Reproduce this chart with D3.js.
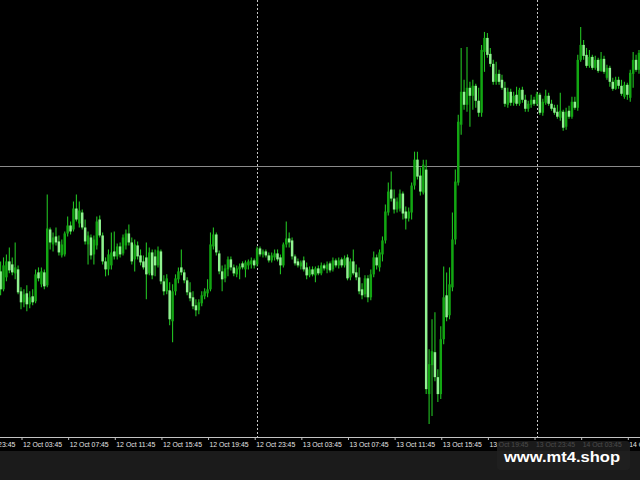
<!DOCTYPE html>
<html><head><meta charset="utf-8">
<script src="https://cdn.jsdelivr.net/npm/d3@7/dist/d3.min.js"></script>
<style>html,body{margin:0;padding:0;background:#000;}svg{display:block;}</style>
</head><body><svg id="c" width="640" height="480"></svg>
<script>
// 15-minute bars, prices in points (price x 10000)
const firstBar = "12 Oct 02:00";
const barMinutes = 15;
const open = [12728,12710,12722,12738,12735,12726,12730,12708,12697,12706,12695,12703,12698,12727,12715,12727,12714,12770,12755,12763,12758,12744,12745,12766,12774,12770,12791,12776,12787,12772,12755,12762,12745,12754,12780,12764,12738,12730,12734,12748,12743,12753,12746,12754,12766,12757,12740,12754,12744,12738,12742,12726,12747,12743,12734,12748,12718,12708,12709,12678,12708,12720,12732,12727,12719,12707,12702,12694,12689,12696,12703,12706,12710,12753,12765,12746,12728,12721,12730,12740,12732,12725,12730,12736,12730,12734,12735,12739,12735,12751,12745,12748,12744,12739,12742,12746,12742,12734,12755,12761,12759,12743,12738,12733,12739,12732,12724,12730,12724,12731,12726,12734,12730,12736,12730,12739,12734,12740,12734,12742,12722,12738,12727,12722,12710,12705,12721,12702,12725,12742,12732,12745,12759,12787,12810,12801,12790,12791,12806,12788,12781,12787,12814,12840,12824,12807,12830,12605,12634,12647,12622,12605,12660,12704,12684,12712,12760,12817,12875,12908,12895,12912,12904,12914,12899,12887,12948,12962,12946,12936,12918,12926,12920,12912,12895,12908,12897,12905,12896,12910,12900,12891,12895,12900,12896,12905,12887,12897,12904,12896,12892,12888,12882,12888,12873,12889,12883,12898,12892,12940,12955,12945,12934,12943,12932,12940,12929,12941,12922,12932,12918,12911,12920,12914,12903,12915,12902,12926,12940,12930,12946];
const high = [12738,12742,12745,12752,12742,12757,12734,12712,12710,12714,12708,12710,12730,12732,12732,12730,12805,12772,12767,12772,12764,12760,12768,12783,12778,12798,12805,12798,12790,12780,12768,12765,12764,12783,12784,12767,12742,12750,12767,12768,12756,12757,12765,12770,12775,12762,12760,12758,12750,12744,12757,12752,12750,12750,12753,12750,12724,12725,12717,12715,12725,12732,12750,12730,12722,12717,12708,12700,12700,12708,12711,12720,12767,12772,12767,12749,12734,12735,12743,12743,12735,12734,12736,12738,12739,12740,12742,12741,12753,12753,12750,12750,12747,12747,12750,12750,12745,12757,12778,12767,12762,12745,12741,12739,12743,12737,12733,12733,12733,12734,12737,12736,12738,12738,12742,12741,12742,12742,12744,12745,12741,12750,12735,12732,12716,12724,12724,12730,12748,12745,12750,12763,12795,12817,12828,12810,12802,12810,12808,12793,12792,12817,12848,12848,12832,12840,12840,12650,12680,12687,12630,12673,12733,12727,12732,12787,12830,12885,12952,12920,12953,12918,12920,12916,12912,12955,12968,12967,12952,12940,12938,12930,12925,12918,12912,12911,12908,12913,12912,12913,12905,12899,12905,12903,12908,12907,12901,12910,12907,12900,12895,12895,12907,12890,12892,12894,12903,12903,12945,12973,12960,12952,12950,12945,12944,12942,12948,12944,12935,12934,12922,12923,12923,12920,12918,12917,12930,12948,12945,12950,12950];
const low = [12704,12708,12718,12726,12724,12720,12705,12690,12692,12688,12691,12694,12696,12718,12712,12710,12712,12750,12748,12754,12744,12742,12743,12763,12765,12768,12778,12772,12770,12755,12735,12740,12735,12750,12762,12735,12723,12724,12730,12740,12740,12742,12744,12750,12754,12735,12728,12740,12734,12730,12700,12724,12720,12723,12732,12715,12704,12705,12674,12657,12704,12716,12724,12716,12704,12698,12690,12683,12685,12693,12700,12702,12708,12750,12744,12725,12708,12717,12723,12729,12723,12722,12720,12730,12722,12730,12731,12731,12733,12743,12742,12742,12737,12737,12739,12738,12725,12732,12752,12752,12740,12734,12732,12730,12728,12720,12722,12723,12717,12724,12724,12729,12726,12727,12728,12732,12731,12732,12732,12719,12719,12724,12719,12705,12700,12702,12697,12699,12722,12730,12728,12738,12756,12784,12798,12786,12787,12788,12780,12770,12778,12780,12810,12820,12804,12805,12605,12575,12583,12618,12597,12600,12655,12678,12680,12708,12755,12814,12865,12890,12888,12873,12890,12892,12883,12883,12928,12942,12933,12915,12915,12915,12910,12893,12892,12894,12894,12894,12894,12897,12888,12888,12892,12894,12894,12885,12884,12895,12894,12889,12885,12881,12879,12869,12870,12881,12881,12890,12889,12938,12940,12932,12932,12930,12930,12927,12928,12926,12920,12913,12909,12910,12911,12904,12901,12900,12898,12912,12928,12926,12925];
const close = [12710,12734,12738,12729,12727,12732,12707,12697,12705,12695,12702,12697,12725,12721,12728,12713,12771,12757,12762,12757,12747,12755,12766,12774,12768,12791,12780,12789,12772,12758,12764,12744,12760,12778,12764,12738,12730,12745,12747,12743,12753,12745,12762,12766,12757,12738,12755,12743,12737,12732,12725,12747,12724,12734,12749,12718,12708,12721,12680,12708,12721,12728,12727,12719,12707,12701,12693,12689,12697,12704,12708,12710,12755,12765,12747,12728,12720,12731,12740,12732,12726,12731,12733,12732,12737,12738,12739,12734,12751,12745,12748,12744,12739,12744,12746,12740,12734,12755,12761,12757,12743,12736,12734,12737,12730,12724,12730,12725,12731,12726,12734,12731,12735,12729,12739,12734,12739,12734,12741,12721,12738,12726,12722,12708,12704,12721,12702,12725,12742,12734,12747,12759,12788,12808,12801,12790,12798,12806,12786,12781,12788,12814,12840,12823,12808,12835,12610,12635,12648,12622,12605,12660,12702,12682,12715,12760,12818,12878,12908,12895,12912,12904,12914,12899,12887,12950,12962,12945,12936,12918,12926,12918,12912,12896,12908,12897,12904,12896,12910,12900,12891,12896,12900,12896,12906,12887,12898,12904,12896,12891,12887,12883,12889,12872,12888,12883,12898,12892,12940,12955,12944,12934,12943,12932,12940,12929,12941,12928,12932,12918,12911,12920,12914,12906,12915,12905,12927,12940,12930,12947,12928];
const priceTop = 13000, priceBottom = 12562;
const hLinePrice = 12834;
const tickLabels = ["11 Oct 23:45","12 Oct 03:45","12 Oct 07:45","12 Oct 11:45","12 Oct 15:45","12 Oct 19:45","12 Oct 23:45","13 Oct 03:45","13 Oct 07:45","13 Oct 11:45","13 Oct 15:45","13 Oct 19:45","13 Oct 23:45","14 Oct 03:45","14 Oct 07:45"];
const separators = ["13 Oct 00:00","14 Oct 00:00"];
const watermark = "www.mt4.shop";

const parse = d3.timeParse("%d %b %H:%M");
const t0 = parse(firstBar);
const bars = open.map((o,i)=>({t:d3.timeMinute.offset(t0, i*barMinutes), o, h:high[i], l:low[i], c:close[i]}));

const W=640, H=480, plotBottom=437;
const svg = d3.select("#c");
svg.append("rect").attr("width",W).attr("height",H).attr("fill","#000");
svg.append("rect").attr("x",0).attr("y",451).attr("width",W).attr("height",H-451).attr("fill","#1b1b1b");

const x = d3.scaleTime().domain([bars[0].t, bars[bars.length-1].t]).range([0.6, 641.9]);
const y = d3.scaleLinear().domain([priceBottom, priceTop]).range([plotBottom, 0]);

// horizontal line
svg.append("line").attr("x1",0).attr("x2",W)
  .attr("y1",Math.round(y(hLinePrice))+0.5).attr("y2",Math.round(y(hLinePrice))+0.5)
  .attr("stroke","#8a8a8a").attr("stroke-width",1);

// day separators
svg.selectAll("line.sep").data(separators).join("line").attr("class","sep")
  .attr("x1",d=>Math.round(x(parse(d)))+0.5).attr("x2",d=>Math.round(x(parse(d)))+0.5)
  .attr("y1",0).attr("y2",plotBottom)
  .attr("stroke","#c8c8c8").attr("stroke-width",1).attr("stroke-dasharray","2,2");

// candles
const g = svg.append("g");
g.selectAll("line.wick").data(bars).join("line").attr("class","wick")
  .attr("x1",d=>x(d.t)).attr("x2",d=>x(d.t))
  .attr("y1",d=>y(d.h)).attr("y2",d=>y(d.l))
  .attr("stroke","#22c022").attr("stroke-width",1.1);
g.selectAll("rect.body").data(bars).join("rect").attr("class","body")
  .attr("x",d=>x(d.t)-1.25).attr("width",2.5)
  .attr("y",d=>y(Math.max(d.o,d.c)))
  .attr("height",d=>Math.max(1, Math.abs(y(d.o)-y(d.c))))
  .attr("fill",d=>d.c>=d.o ? "#12a612" : "#90f290");

// time axis
const tickTimes = tickLabels.map(parse);
const axis = d3.axisBottom(x).tickValues(tickTimes).tickFormat((d,i)=>tickLabels[i]).tickSize(3).tickSizeOuter(0);
const ax = svg.append("g").attr("transform",`translate(0,${plotBottom})`).call(axis);
ax.select(".domain").remove();
ax.selectAll(".tick line").attr("stroke","#bdbdbd").attr("transform","translate(0.5,0)");
ax.selectAll(".tick text").attr("fill","#e6e6e6").attr("text-anchor","start")
  .attr("x",1.5).attr("y",9.5).attr("dy",null)
  .attr("font-family","Liberation Sans, Arial, sans-serif").attr("font-size","7.5px")
  .attr("textLength",39).attr("lengthAdjust","spacingAndGlyphs");
svg.append("line").attr("x1",0).attr("x2",W).attr("y1",plotBottom+0.5).attr("y2",plotBottom+0.5)
  .attr("stroke","#c4c4c4").attr("stroke-width",1);

// watermark
svg.append("rect").attr("x",497).attr("y",441).attr("width",133).attr("height",29).attr("rx",4)
  .attr("fill","#202020").attr("fill-opacity",0.8);
svg.append("text").attr("x",562).attr("y",461.5).attr("text-anchor","middle")
  .attr("font-family","Liberation Sans, Arial, sans-serif").attr("font-weight","bold").attr("font-size","15px")
  .attr("fill","#ffffff").attr("textLength",116).attr("lengthAdjust","spacingAndGlyphs").text(watermark);
</script></body></html>
